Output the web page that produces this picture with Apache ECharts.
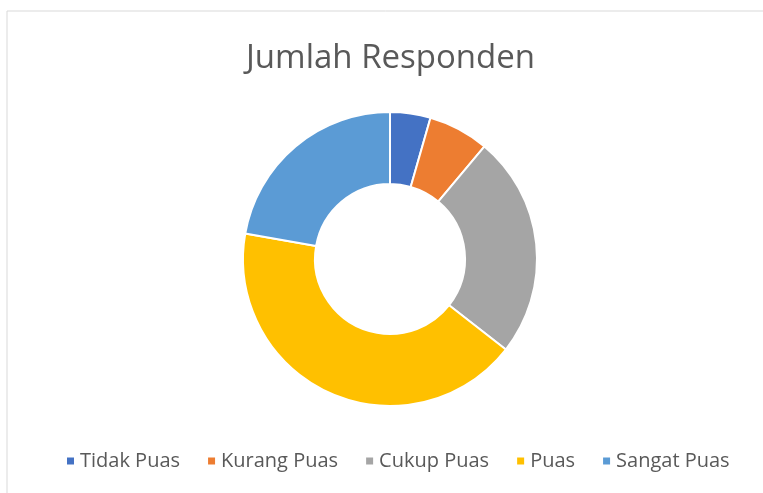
<!DOCTYPE html>
<html>
<head>
<meta charset="utf-8">
<script src="https://cdn.jsdelivr.net/npm/echarts@6/dist/echarts.min.js"></script>
<style>
  html, body { margin: 0; padding: 0; background: #fff; }
  #chart { width: 763px; height: 493px; }
</style>
</head>
<body>
<div id="chart"></div>
<script>
// data
var categories = ['Tidak Puas', 'Kurang Puas', 'Cukup Puas', 'Puas', 'Sangat Puas'];
var values = [2, 3, 11, 19, 10];
var colors = ['#4472C4', '#ED7D31', '#A5A5A5', '#FFC000', '#5B9BD5'];

var myChart = echarts.init(document.getElementById('chart'));
var font = '"Open Sans", sans-serif';

myChart.setOption({
    color: colors,
    animation: false,
    // chart area frame (right/bottom run off the picture)
    graphic: [{
        type: 'rect',
        shape: { x: 7, y: 11, width: 800, height: 520 },
        style: { fill: 'none', stroke: '#d9d9d9', lineWidth: 1 }
    }],
    title: {
        text: 'Jumlah Responden',
        left: 241,
        top: 37,
        textStyle: {
            fontFamily: font,
            fontSize: 33,
            fontWeight: 'normal',
            color: '#595959'
        }
    },
    legend: {
        top: 446,
        left: 60,
        icon: 'rect',
        itemWidth: 9,
        itemHeight: 9,
        itemGap: 26,
        textStyle: {
            fontFamily: font,
            fontSize: 20,
            color: '#595959'
        },
        data: categories
    },
    series: [{
        type: 'pie',
        center: [390, 259],
        radius: [75, 147],
        startAngle: 90,
        clockwise: true,
        label: { show: false },
        labelLine: { show: false },
        itemStyle: { borderColor: '#fff', borderWidth: 2 },
        data: categories.map(function (c, i) {
            return { name: c, value: values[i] };
        })
    }]
});
</script>
</body>
</html>
